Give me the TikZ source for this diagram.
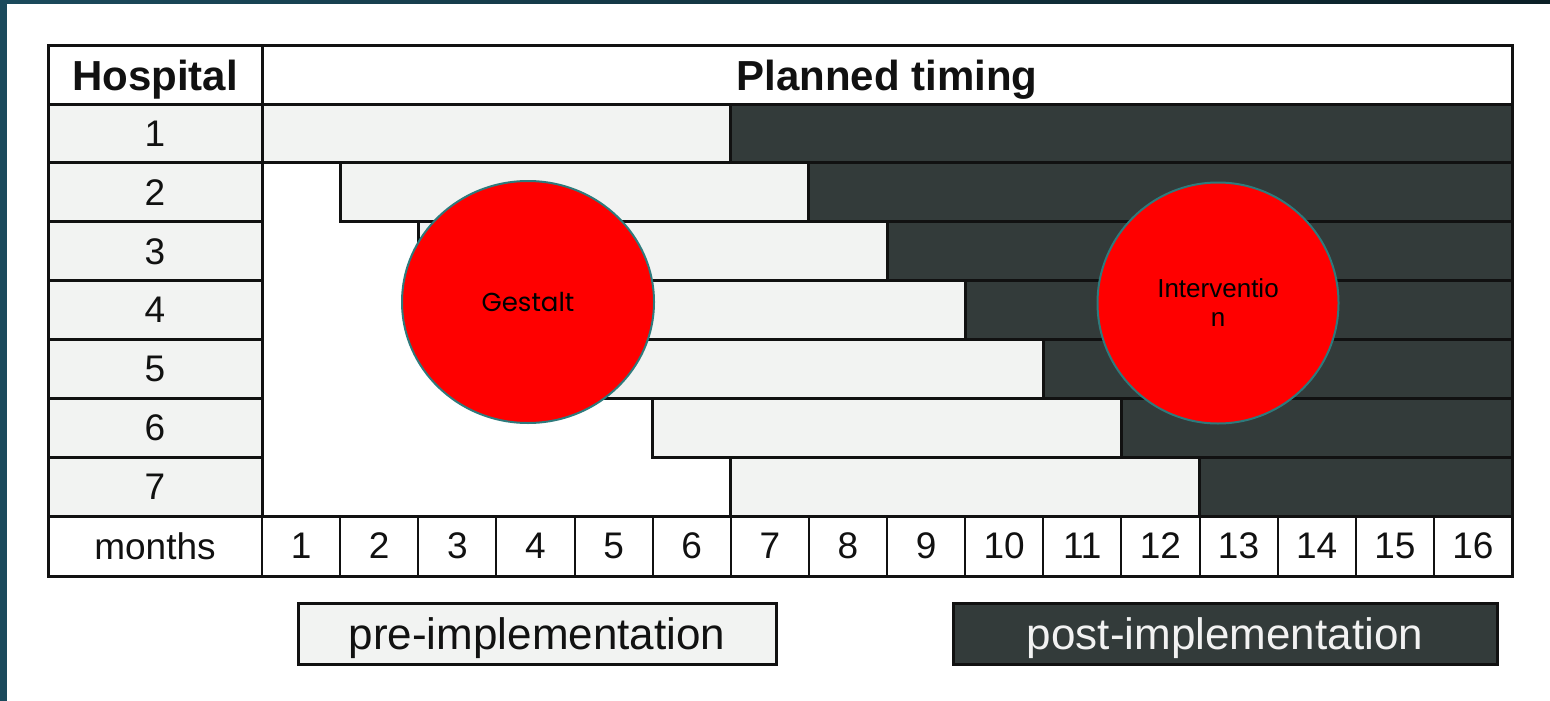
\documentclass[tikz,border=0pt]{standalone}
\usepackage{fontspec}
\setmainfont{Liberation Sans}
\newfontfamily\geofont{Poppins}
\usetikzlibrary{shapes.geometric}
\definecolor{pre}{HTML}{F2F3F2}
\definecolor{post}{HTML}{333B3A}
\definecolor{frameteal}{HTML}{1B4A5C}
\definecolor{framedark}{HTML}{0B1F26}
\definecolor{ringteal}{HTML}{2E7A7C}
\definecolor{ink}{HTML}{111111}
\definecolor{paper}{HTML}{F2F2F2}

\tikzset{
  cell/.style={draw=ink, line width=3pt, inner sep=0pt, outer sep=0pt,
    text depth=0pt, text=ink, font=\fontsize{37}{44}\selectfont},
  headcell/.style={cell, fill=white, minimum height=58,
    font=\bfseries\fontsize{42}{50}\selectfont},
  hospcell/.style={cell, fill=pre, minimum width=214, minimum height=58.86},
  monthcell/.style={cell, fill=white, line width=2pt, minimum width=78.125, minimum height=60},
  prebar/.style={draw=ink, line width=3pt, fill=pre},
  postbar/.style={draw=ink, line width=3pt, fill=post},
  bubble/.style={draw=ringteal, line width=2pt, fill=red, inner sep=0pt,
    outer sep=0pt, text=black, align=center},
  legendbox/.style={draw=ink, line width=3pt, inner sep=0pt, text depth=0pt,
    minimum height=61, font=\fontsize{44}{52}\selectfont},
}

\begin{document}
\begin{tikzpicture}[x=1pt,y=-1pt]
  % page and frame edges
  \useasboundingbox (0,0) rectangle (1550,701);
  \fill[white] (0,0) rectangle (1550,701);
  \fill[frameteal] (0,0) rectangle (7,701);
  \shade[left color=frameteal, right color=framedark] (0,0) rectangle (1550,4);

  % header row
  \node[headcell, minimum width=214] (hhosp) at (155,75) {Hospital};
  \node[headcell, minimum width=1250] (htiming) at (887,75) {Planned timing};

  % hospital column
  \foreach \k in {1,...,7} {
    \node[hospcell] (h\k) at (155,{104+58.86*(\k-0.5)}) {\k};
  }

  % timing area with pre/post bars
  \fill[white] (262,104) rectangle (1512,516);
  \foreach \i in {1,...,7} {
    \pgfmathsetmacro\ya{104+58.86*(\i-1)}
    \pgfmathsetmacro\yb{\ya+58.86}
    \pgfmathsetmacro\xa{262+78.125*(\i-1)}
    \pgfmathsetmacro\xb{262+78.125*(\i+5)}
    \draw[prebar] (\xa,\ya) rectangle (\xb,\yb);
    \draw[postbar] (\xb,\ya) rectangle (1512,\yb);
  }

  % months row
  \node[monthcell, minimum width=214] (mlabel) at (155,546) {months};
  \foreach \k in {1,...,16} {
    \node[monthcell] (m\k) at ({262+78.125*(\k-0.5)},546) {\k};
  }

  % table outline
  \draw[ink, line width=3pt] (48,46) rectangle (1512,576);
  \draw[ink, line width=3pt] (262,46) -- (262,516);
  \draw[ink, line width=3pt] (48,516) -- (1512,516);

  % callouts
  \node[bubble, ellipse, minimum width=252, minimum height=242] (gestalt) at (528,302) {};
  \node[text=black, font=\geofont\fontsize{26}{30}\selectfont] (gestalttext) at (gestalt.center) {Gestalt};
  \node[bubble, circle, minimum size=241, font=\fontsize{26}{29}\selectfont] (interv) at (1218,303) {Interventio\\n};

  % legend
  \node[legendbox, fill=pre, text=ink, minimum width=478] (legpre) at (537,633.5) {pre-implementation};
  \node[legendbox, fill=post, text=paper, minimum width=544] (legpost) at (1225,633.5) {post-implementation};
\end{tikzpicture}
\end{document}
